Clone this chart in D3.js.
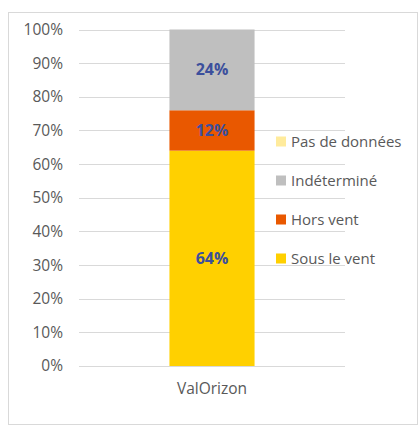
<!DOCTYPE html>
<html>
<head>
<meta charset="utf-8">
<script src="https://cdn.jsdelivr.net/npm/d3@7"></script>
<style>
  body { margin: 0; background: #fff; }
  text { font-family: "Open Sans", "Noto Sans", sans-serif; }
</style>
</head>
<body>
<div id="chart"></div>
<script>
// data
const categories = ["ValOrizon"];
const seriesNames = ["Sous le vent", "Hors vent", "Indéterminé", "Pas de données"];
const seriesValues = [[0.64], [0.12], [0.24], [0]];
const seriesColors = ["#ffd000", "#e95800", "#bfbfbf", "#ffeb9c"];
const yTicks = [0, 0.1, 0.2, 0.3, 0.4, 0.5, 0.6, 0.7, 0.8, 0.9, 1];

const width = 418, height = 428,
      margin = ({top: 29.5, right: 73, left: 79, bottom: 62});

// one row per category, keys = series
const table = categories.map((c, i) => {
    let row = {category: c};
    seriesNames.forEach((s, j) => row[s] = seriesValues[j][i]);
    return row;
});

let svg = d3.select("#chart")
    .append("svg")
    .attr("width", width)
    .attr("height", height);

// outer frame
svg.append("rect")
    .attr("x", 8.5).attr("y", 12.5)
    .attr("width", 409).attr("height", 412)
    .attr("fill", "none")
    .attr("stroke", "#d9d9d9");

const x = d3.scaleBand()
    .domain(categories)
    .range([margin.left, width - margin.right])
    .paddingInner(0.36).paddingOuter(0.68);

const y = d3.scaleLinear()
    .domain([0, 1])
    .range([height - margin.bottom, margin.top]);

// gridlines
svg.append("g")
    .selectAll("line")
    .data(yTicks)
    .join("line")
    .attr("x1", margin.left)
    .attr("x2", width - margin.right)
    .attr("y1", d => Math.round(y(d)) + 0.5)
    .attr("y2", d => Math.round(y(d)) + 0.5)
    .attr("stroke", "#d9d9d9");

// y axis labels
const yAxis = g => g
    .attr("transform", `translate(${margin.left - 16},0)`)
    .call(d3.axisLeft(y).tickValues(yTicks).tickFormat(d3.format(".0%")).tickSize(0).tickPadding(0))
    .call(g => g.select(".domain").remove())
    .call(g => g.selectAll("text")
        .attr("fill", "#595959")
        .style("font-size", "15.5px")
        .style("font-family", "'Open Sans', sans-serif"));

svg.append("g").call(yAxis);

// x axis label
const xAxis = g => g
    .attr("transform", `translate(0,${height - margin.bottom})`)
    .call(d3.axisBottom(x).tickSize(0).tickPadding(17))
    .call(g => g.select(".domain").remove())
    .call(g => g.selectAll("text")
        .attr("fill", "#595959")
        .style("font-size", "15.5px")
        .style("font-family", "'Open Sans', sans-serif"));

svg.append("g").call(xAxis);

// stacked bars
const stacked = d3.stack().keys(seriesNames)(table);

let layer = svg.selectAll(".layer")
    .data(stacked)
    .join("g")
    .attr("class", "layer")
    .attr("fill", (d, i) => seriesColors[i]);

layer.selectAll("rect")
    .data(d => d)
    .join("rect")
    .attr("x", d => x(d.data.category))
    .attr("width", x.bandwidth())
    .attr("y", d => y(d[1]))
    .attr("height", d => y(d[0]) - y(d[1]));

// value labels
layer.selectAll("text")
    .data(d => d.filter(p => p[1] - p[0] > 0))
    .join("text")
    .text(d => d3.format(".0%")(d[1] - d[0]))
    .attr("x", d => x(d.data.category) + x.bandwidth() / 2)
    .attr("y", d => (y(d[0]) + y(d[1])) / 2)
    .attr("dy", "0.35em")
    .attr("text-anchor", "middle")
    .attr("fill", "#3c4f9c")
    .style("font-weight", "bold")
    .style("font-size", "16px");

// legend, top to bottom in reverse series order
const legendItems = seriesNames.map((s, i) => ({name: s, color: seriesColors[i]})).reverse();
const legendY = d3.scalePoint()
    .domain(legendItems.map(d => d.name))
    .range([141.5, 258.5]);

let legend = svg.append("g")
    .selectAll("g")
    .data(legendItems)
    .join("g")
    .attr("transform", d => `translate(276,${legendY(d.name)})`);

legend.append("rect")
    .attr("x", 0).attr("y", -5)
    .attr("width", 10).attr("height", 10)
    .attr("fill", d => d.color);

legend.append("text")
    .text(d => d.name)
    .attr("x", 15)
    .attr("dy", "0.35em")
    .attr("fill", "#595959")
    .style("font-size", "15px");
</script>
</body>
</html>
